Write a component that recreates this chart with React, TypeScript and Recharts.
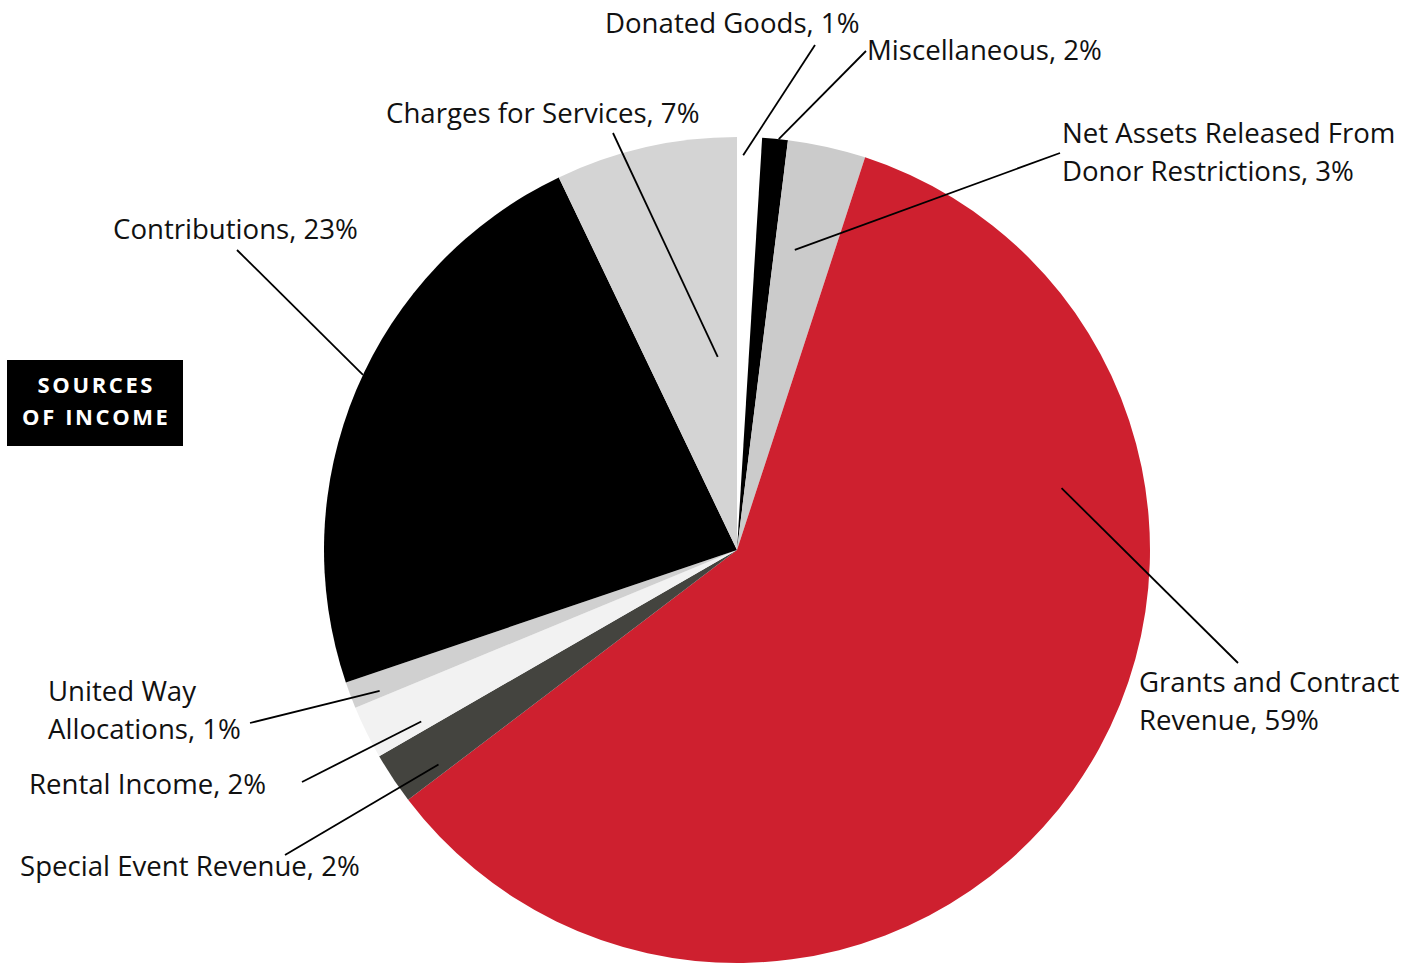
import React from "react";
import { PieChart, Pie, Cell } from "recharts";

const categories = [
  "Donated Goods",
  "Miscellaneous",
  "Net Assets Released From Donor Restrictions",
  "Grants and Contract Revenue",
  "Special Event Revenue",
  "Rental Income",
  "United Way Allocations",
  "Contributions",
  "Charges for Services",
];
const values = [0.97, 1.0, 3.05, 59.64, 2.02, 2.08, 1.04, 23.1, 7.1];
const percentLabels = ["1%", "2%", "3%", "59%", "2%", "2%", "1%", "23%", "7%"];
const colors = ["#FFFFFF", "#000000", "#CBCBCB", "#CE202F", "#44443F", "#F2F2F2", "#D0D0D0", "#000000", "#D4D4D4"];

const data = categories.map((name, i) => ({ name, value: values[i] }));

// label layout: leader-line start (angle clockwise from 12 o'clock, radius fraction),
// leader-line end, text lines, text anchor position (baseline of first line)
const labelLayout = [
  { a: 0.9, r: 0.956, ex: 815, ey: 45, lines: ["Donated Goods, " + percentLabels[0]], tx: 605, ty: 33 },
  { a: 5.8, r: 1.0, ex: 866, ey: 51, lines: ["Miscellaneous, " + percentLabels[1]], tx: 867, ty: 60 },
  { a: 10.9, r: 0.74, ex: 1060, ey: 153, lines: ["Net Assets Released From", "Donor Restrictions, " + percentLabels[2]], tx: 1062, ty: 143 },
  { a: 79.2, r: 0.8, ex: 1238, ey: 663, lines: ["Grants and Contract", "Revenue, " + percentLabels[3]], tx: 1139, ty: 692 },
  { a: 234.3, r: 0.89, ex: 285, ey: 855, lines: ["Special Event Revenue, " + percentLabels[4]], tx: 20, ty: 876 },
  { a: 241.5, r: 0.87, ex: 302, ey: 782, lines: ["Rental Income, " + percentLabels[5]], tx: 29, ty: 794 },
  { a: 248.5, r: 0.93, ex: 250, ey: 723, lines: ["United Way", "Allocations, " + percentLabels[6]], tx: 48, ty: 701 },
  { a: 295.1, r: 1.0, ex: 237, ey: 250, lines: ["Contributions, " + percentLabels[7]], tx: 113, ty: 239 },
  { a: 354.3, r: 0.47, ex: 613, ey: 133, lines: ["Charges for Services, " + percentLabels[8]], tx: 386, ty: 123 },
];

const FONT = "'Open Sans', 'Noto Sans', sans-serif";

const renderLabel = (props: any) => {
  const { cx, cy, outerRadius, name } = props;
  let idx = typeof props.index === "number" ? props.index : categories.indexOf(name);
  if (idx < 0) idx = categories.indexOf(props?.payload?.name);
  const L = labelLayout[idx];
  if (!L) return null;
  const rad = (L.a * Math.PI) / 180;
  const sx = cx + Math.sin(rad) * outerRadius * L.r;
  const sy = cy - Math.cos(rad) * outerRadius * L.r;
  return (
    <g key={`lab-${idx}`}>
      <line x1={sx} y1={sy} x2={L.ex} y2={L.ey} stroke="#000" strokeWidth={1.8} />
      <text x={L.tx} y={L.ty} fontFamily={FONT} fontSize={27.6} fill="#111" textAnchor="start">
        {L.lines.map((ln, j) => (
          <tspan key={j} x={L.tx} dy={j === 0 ? 0 : 38}>
            {ln}
          </tspan>
        ))}
      </text>
    </g>
  );
};

export default function App() {
  return (
    <div style={{ position: "absolute", left: 0, top: 0, width: 1414, height: 965, background: "#fff" }}>
      <PieChart width={1414} height={965} margin={{ top: 0, right: 0, bottom: 0, left: 0 }}>
        <Pie
          data={data}
          dataKey="value"
          nameKey="name"
          cx={737}
          cy={550}
          outerRadius={413}
          startAngle={90}
          endAngle={-270}
          stroke="none"
          isAnimationActive={false}
          labelLine={false}
          label={renderLabel}
        >
          {data.map((d, i) => (
            <Cell key={d.name} fill={colors[i]} stroke="none" />
          ))}
        </Pie>
      </PieChart>
      <div
        style={{
          position: "absolute",
          left: 7,
          top: 360,
          width: 176,
          height: 86,
          background: "#000",
          color: "#fff",
          fontFamily: FONT,
          fontWeight: 700,
          fontSize: 22,
          letterSpacing: 2.6,
          lineHeight: "32px",
          textAlign: "center",
          display: "flex",
          flexDirection: "column",
          justifyContent: "center",
          paddingBottom: 6,
          boxSizing: "border-box",
        }}
      >
        <div style={{ marginRight: -2.6 }}>SOURCES</div>
        <div style={{ marginRight: -2.6 }}>OF INCOME</div>
      </div>
    </div>
  );
}
